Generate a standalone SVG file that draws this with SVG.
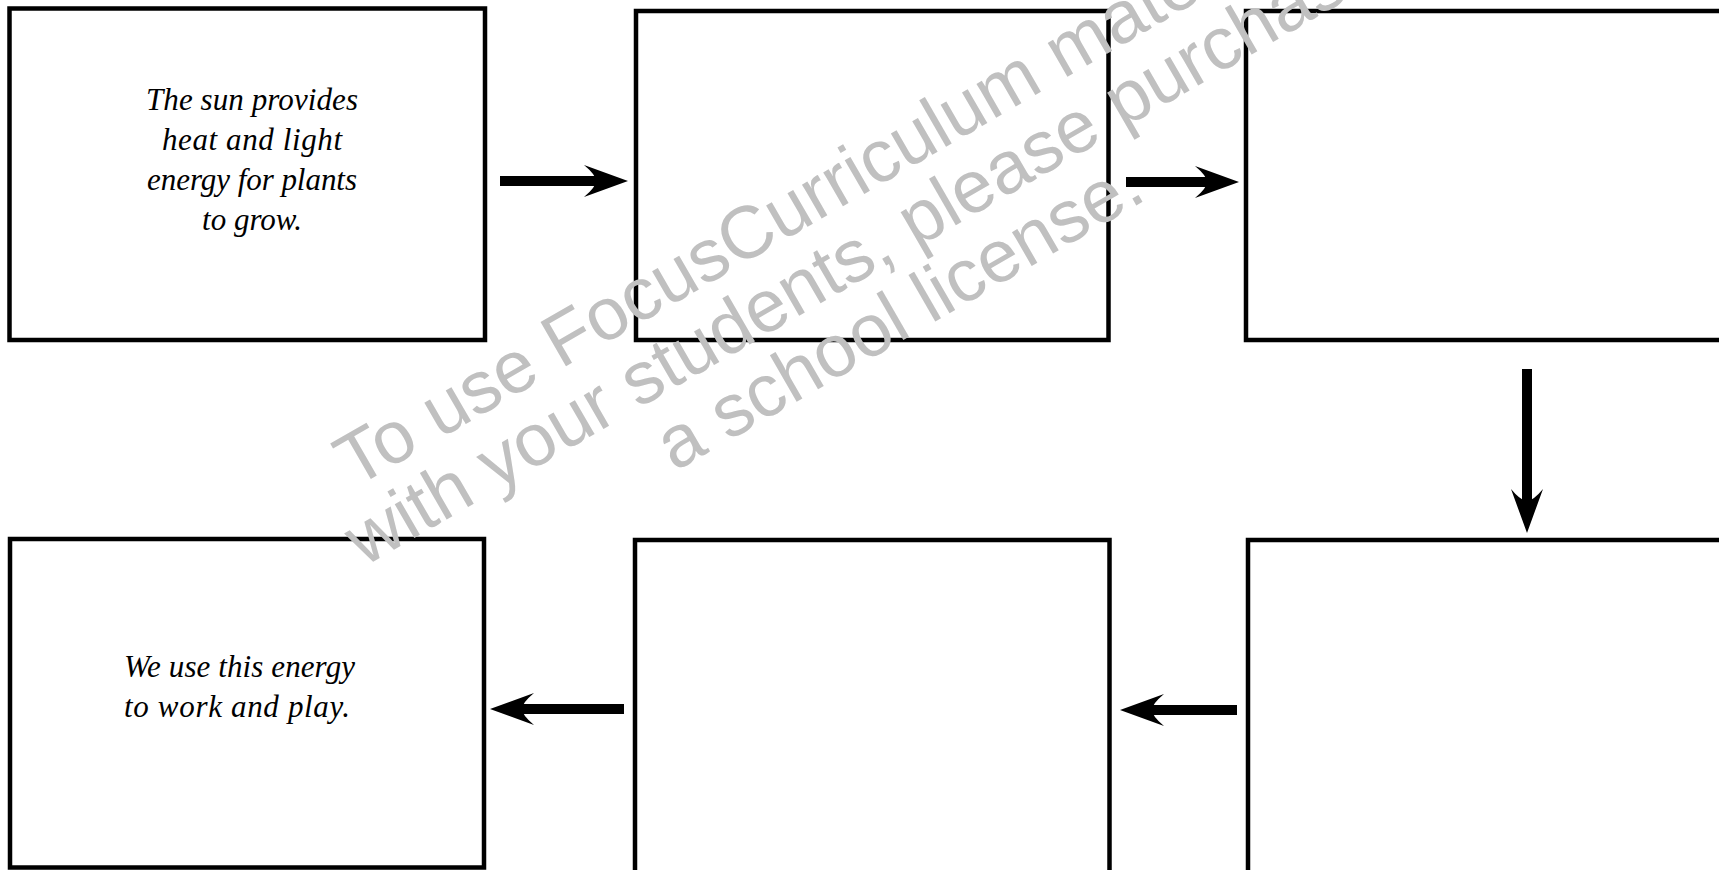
<svg xmlns="http://www.w3.org/2000/svg" width="1719" height="870" viewBox="0 0 1719 870">
<style>
.box{fill:#fff;stroke:#000;stroke-width:4.5}
.lbl{font-family:"Liberation Serif","DejaVu Serif",serif;font-style:italic;font-size:31px;fill:#000}
.conn{stroke:#000;stroke-width:10;fill:none;marker-end:url(#ah)}
.wm{font-family:"Liberation Sans",Arial,sans-serif;font-size:74px;fill:#c0c0c0;text-anchor:middle}
</style>
<defs>
<marker id="ah" viewBox="0 0 44 32" markerWidth="44" markerHeight="32" refX="14" refY="16" orient="auto" markerUnits="userSpaceOnUse">
<path d="M44,16 L0,0 Q12,10 12,16 Q12,22 0,32 Z" fill="#000"/>
</marker>
</defs>
<rect width="1719" height="870" fill="#fff"/>
<g id="node1">
<rect class="box" x="9.5" y="8.5" width="475.5" height="331.5"/>
<text class="lbl" text-anchor="middle"><tspan x="252" y="110" textLength="212" lengthAdjust="spacing">The sun provides</tspan><tspan x="252" y="150" textLength="180" lengthAdjust="spacing">heat and light</tspan><tspan x="252" y="190" textLength="210" lengthAdjust="spacing">energy for plants</tspan><tspan x="252" y="230" textLength="100" lengthAdjust="spacing">to grow.</tspan></text>
</g>
<g id="node2"><rect class="box" x="636" y="11" width="472.5" height="329"/></g>
<g id="node3"><rect class="box" x="1246" y="11" width="500" height="329"/></g>
<g id="node4"><rect class="box" x="1248" y="540" width="500" height="340"/></g>
<g id="node5"><rect class="box" x="635" y="540" width="474.5" height="340"/></g>
<g id="node6">
<rect class="box" x="10" y="539" width="474" height="328.5"/>
<text class="lbl"><tspan x="124" y="677" textLength="231" lengthAdjust="spacing">We use this energy</tspan><tspan x="124" y="717" textLength="226" lengthAdjust="spacing">to work and play.</tspan></text>
</g>
<g id="connectors">
<line class="conn" x1="500" y1="181" x2="598" y2="181"/>
<line class="conn" x1="1126" y1="182" x2="1209" y2="182"/>
<line class="conn" x1="1527" y1="369" x2="1527" y2="503"/>
<line class="conn" x1="1237" y1="710" x2="1150" y2="710"/>
<line class="conn" x1="624" y1="709" x2="520" y2="709"/>
</g>
<g id="watermark" class="wm" transform="translate(875,272) rotate(-30)">
<text x="0" y="-73">To use FocusCurriculum materials</text>
<text x="0" y="0">with your students, please purchase</text>
<text x="0" y="73">a school license.</text>
</g>
</svg>
